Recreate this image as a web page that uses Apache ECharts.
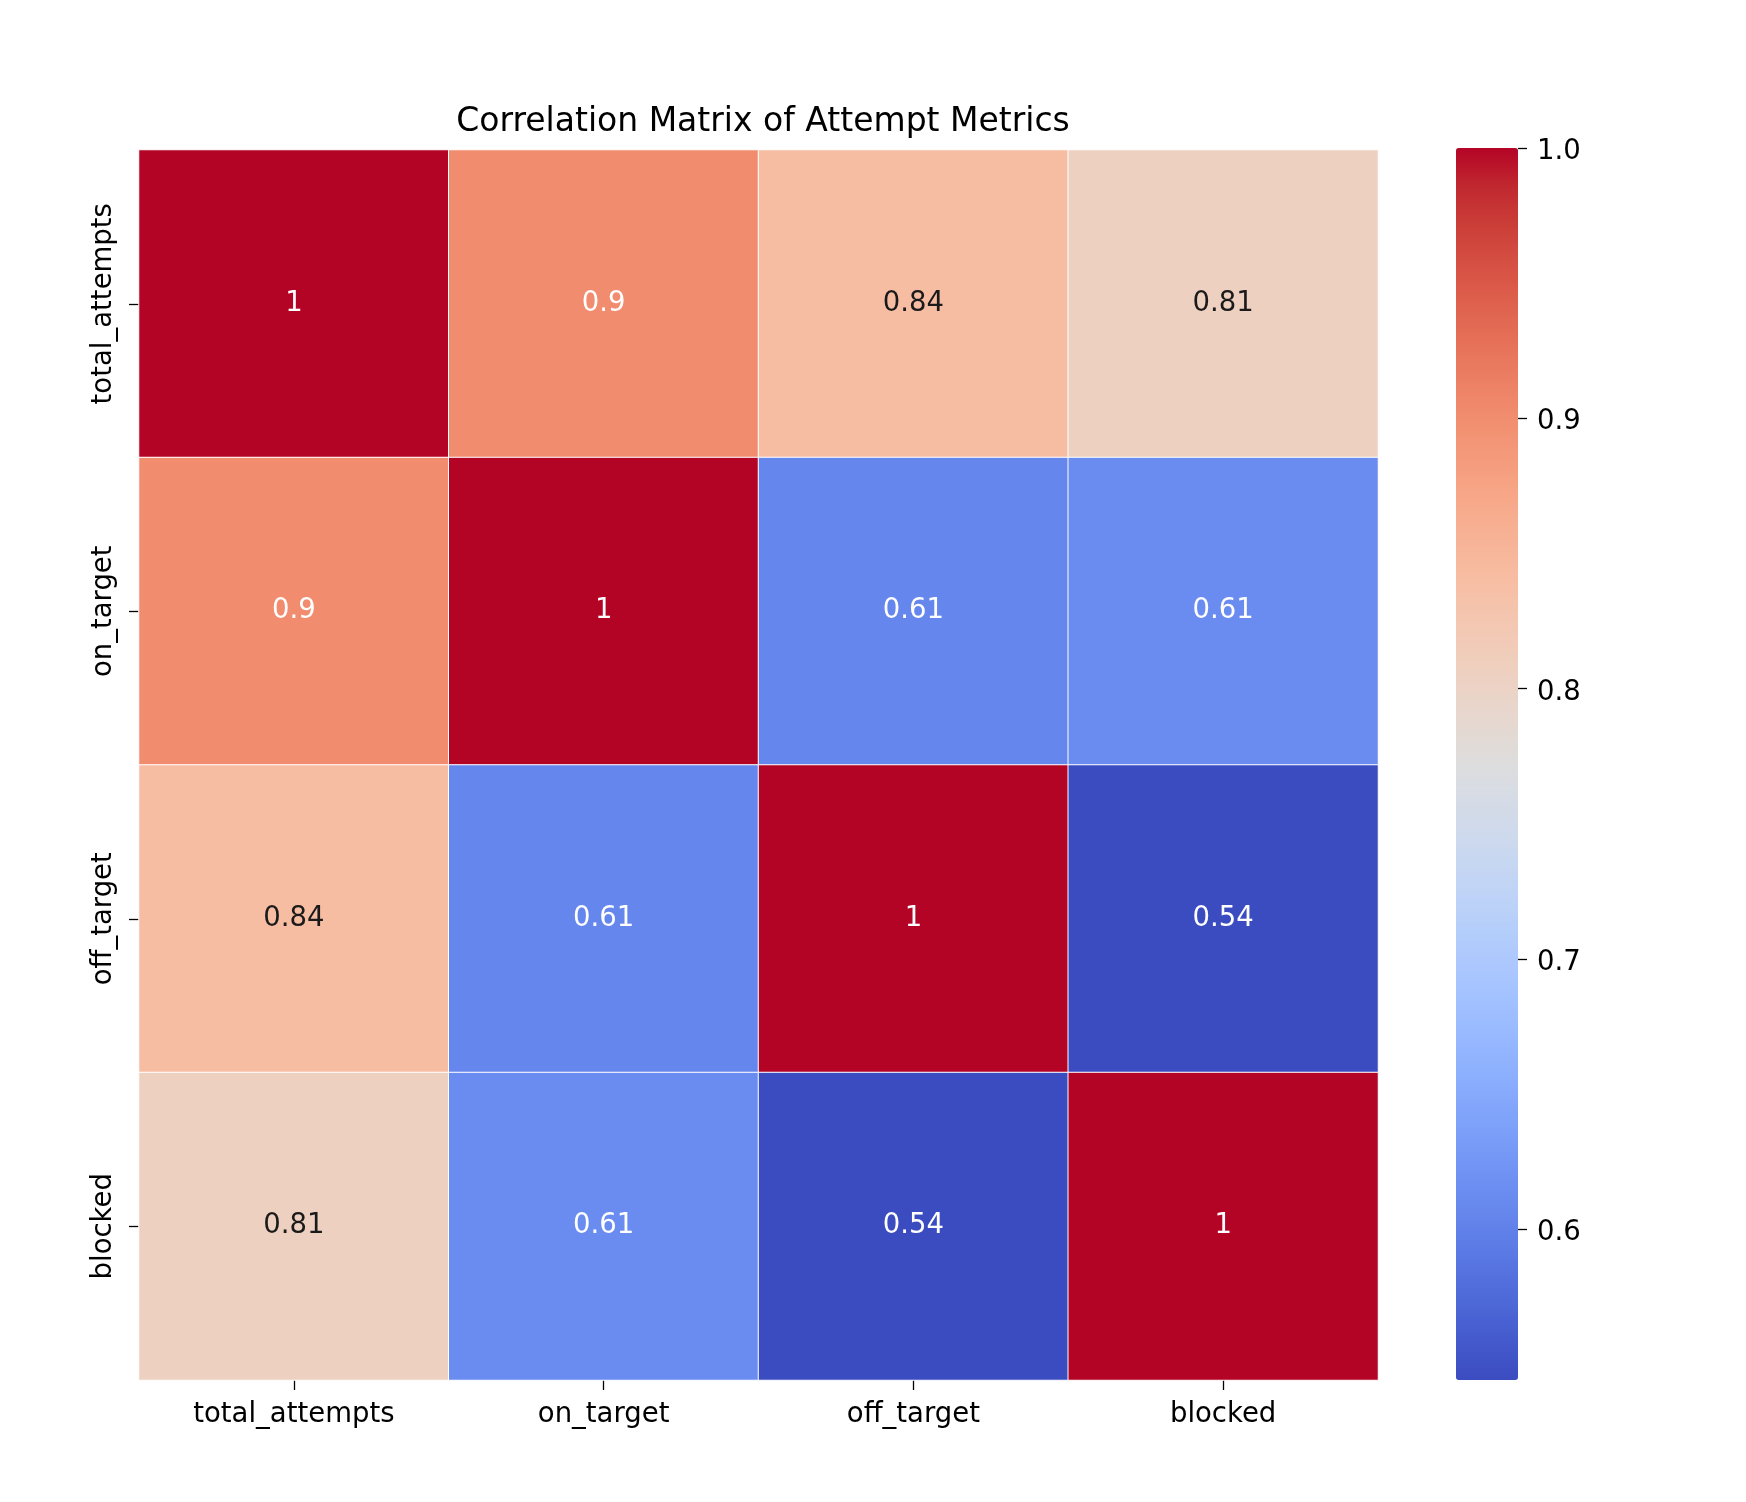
<!DOCTYPE html>
<html>
<head>
<meta charset="utf-8">
<script src="https://cdn.jsdelivr.net/npm/echarts@6/dist/echarts.min.js"></script>
<style>html,body{margin:0;padding:0;background:#fff}#chart{width:1746px;height:1502px}</style>
</head>
<body>
<div id="chart"></div>
<script>
// ---- data ----
const categories = ['total_attempts', 'on_target', 'off_target', 'blocked'];
const rowTotalAttempts = [1.0, 0.9015, 0.8405, 0.8062];
const rowOnTarget      = [0.9015, 1.0, 0.6058, 0.6131];
const rowOffTarget     = [0.8405, 0.6058, 1.0, 0.5442];
const rowBlocked       = [0.8062, 0.6131, 0.5442, 1.0];
const colorbarTicks = [0.6, 0.7, 0.8, 0.9, 1.0];
const titleText = 'Correlation Matrix of Attempt Metrics';

// ---- coolwarm colormap stops (style) ----
const coolwarm = [
 [59,76,192],[68,90,204],[77,104,215],[87,117,225],[98,130,234],[108,142,241],[119,154,247],[130,165,251],
 [141,176,254],[152,185,255],[163,194,255],[174,201,253],[184,208,249],[194,213,244],[204,217,238],[213,219,230],
 [221,221,221],[229,216,209],[236,211,197],[241,204,185],[245,196,173],[247,187,160],[247,177,148],[247,167,135],
 [244,154,123],[241,141,111],[236,127,99],[229,112,88],[222,96,77],[213,80,66],[203,62,56],[192,40,47],[180,4,38]
];
const toHex = c => '#' + c.map(x => Math.round(x).toString(16).padStart(2,'0')).join('');
const cmapColors = coolwarm.map(toHex);

const rows = [rowTotalAttempts, rowOnTarget, rowOffTarget, rowBlocked];
const allVals = rows.flat();
const vmin = Math.min(...allVals), vmax = Math.max(...allVals);

function cmap(t){
  t = Math.max(0, Math.min(1, t));
  const p = t * (coolwarm.length - 1);
  const i = Math.min(Math.floor(p), coolwarm.length - 2);
  const f = p - i;
  return coolwarm[i].map((a, k) => a + (coolwarm[i+1][k] - a) * f);
}
function lum(c){
  const lin = c.map(x => { x /= 255; return x <= 0.03928 ? x/12.92 : Math.pow((x+0.055)/1.055, 2.4); });
  return 0.2126*lin[0] + 0.7152*lin[1] + 0.0722*lin[2];
}
const fmt2g = v => String(Number(v.toPrecision(2)));

const data = [];
rows.forEach((row, yi) => row.forEach((v, xi) => {
  const c = cmap((v - vmin) / (vmax - vmin));
  data.push({
    value: [xi, yi, v],
    label: { color: lum(c) > 0.408 ? '#1a1a1a' : '#ffffff' }
  });
}));

const FONT = 'DejaVu Sans';
const FS = 27.5;

const chart = echarts.init(document.getElementById('chart'), null, {renderer: 'canvas'});
chart.setOption({
  backgroundColor: '#ffffff',
  animation: false,
  title: {
    text: titleText,
    left: 758, top: 101, textAlign: 'center',
    textStyle: { fontFamily: FONT, fontSize: 33, fontWeight: 'normal', color: '#000' }
  },
  grid: [
    { left: 139, top: 150, width: 1239, height: 1230 },
    { left: 1456, top: 148, width: 62, height: 1232 }
  ],
  xAxis: [
    {
      type: 'category', data: categories, gridIndex: 0, position: 'bottom',
      axisLine: { show: false },
      axisTick: { show: true, alignWithLabel: true, length: 10, lineStyle: { color: '#000', width: 1.3 } },
      axisLabel: { fontFamily: FONT, fontSize: FS, color: '#000', margin: 21 },
      splitLine: { show: false }
    },
    { type: 'value', gridIndex: 1, show: false, min: 0, max: 1, axisLine: { onZero: false } }
  ],
  yAxis: [
    {
      type: 'category', data: categories, gridIndex: 0, inverse: true,
      axisLine: { show: false },
      axisTick: { show: true, alignWithLabel: true, length: 10, lineStyle: { color: '#000', width: 1.3 } },
      axisLabel: { fontFamily: FONT, fontSize: FS, color: '#000', rotate: 90, margin: 21, verticalAlign: 'bottom' },
      splitLine: { show: false }
    },
    {
      type: 'value', gridIndex: 1, position: 'right', min: vmin, max: vmax,
      axisLine: { show: true, onZero: false, lineStyle: { color: 'rgba(0,0,0,0)' } },
      splitLine: { show: false },
      axisTick: { show: true, inside: false, length: 9, customValues: colorbarTicks,
                  lineStyle: { color: '#000', width: 1.3 } },
      axisLabel: { margin: 19, customValues: colorbarTicks,
                   formatter: v => '{a|' + v.toFixed(1) + '}',
                   rich: { a: { fontFamily: FONT, fontSize: FS, color: '#000', padding: [8, 0, 0, 0] } } }
    }
  ],
  visualMap: {
    type: 'continuous',
    seriesIndex: 0,
    min: vmin, max: vmax,
    calculable: false,
    show: true,
    orient: 'vertical',
    left: 1456, top: 148,
    padding: 0,
    itemWidth: 62, itemHeight: 1232,
    text: null,
    inRange: { color: cmapColors },
    hoverLink: false
  },
  series: [{
    type: 'heatmap',
    xAxisIndex: 0, yAxisIndex: 0,
    data: data,
    itemStyle: { borderColor: '#ffffff', borderWidth: 1 },
    label: {
      show: true,
      fontFamily: FONT, fontSize: FS,
      formatter: p => fmt2g(p.value[2])
    },
    emphasis: { disabled: true }
  }]
});
</script>
</body>
</html>
